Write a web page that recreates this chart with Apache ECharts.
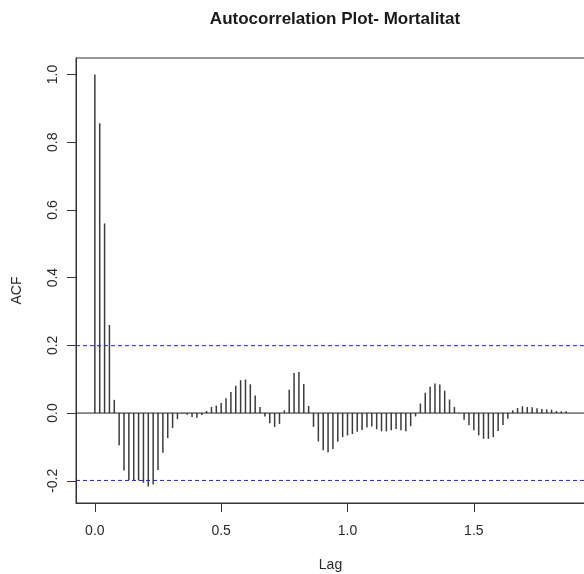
<!DOCTYPE html>
<html>
<head>
<meta charset="utf-8">
<title>Autocorrelation Plot- Mortalitat</title>
<script src="https://cdn.jsdelivr.net/npm/echarts@6/dist/echarts.min.js"></script>
<style>
  html, body { margin: 0; padding: 0; background: #ffffff; }
  #chart { width: 584px; height: 574px; }
</style>
</head>
<body>
<div id="chart"></div>
<script>
// Weekly series: lags are expressed in years (52 observations per year)
const frequency = 52;

// Sample autocorrelation for lags 0..97
const acfValues = [
  1.000, 0.856, 0.560, 0.260, 0.039, -0.095, -0.170, -0.198, -0.198, -0.199,
  -0.206, -0.217, -0.211, -0.168, -0.117, -0.074, -0.044, -0.018, -0.002, -0.005,
  -0.012, -0.014, -0.006, 0.006, 0.018, 0.022, 0.030, 0.044, 0.062, 0.081,
  0.097, 0.099, 0.085, 0.052, 0.018, -0.010, -0.030, -0.041, -0.032, 0.008,
  0.069, 0.118, 0.121, 0.086, 0.021, -0.041, -0.084, -0.110, -0.116, -0.106,
  -0.085, -0.071, -0.066, -0.062, -0.055, -0.050, -0.043, -0.040, -0.048, -0.054,
  -0.054, -0.051, -0.047, -0.051, -0.054, -0.039, -0.010, 0.028, 0.060, 0.078,
  0.087, 0.084, 0.066, 0.040, 0.018, 0.001, -0.020, -0.036, -0.051, -0.066,
  -0.076, -0.076, -0.071, -0.053, -0.035, -0.017, 0.008, 0.015, 0.020, 0.018,
  0.017, 0.014, 0.012, 0.011, 0.010, 0.006, 0.005, 0.005
];

// Approximate 95% confidence bound
const confLimit = 0.199;

// Tick positions
const xTicks = [0, 0.5, 1.0, 1.5];
const yTicks = [-0.2, 0.0, 0.2, 0.4, 0.6, 0.8, 1.0];

const titleText = 'Autocorrelation Plot- Mortalitat';
const xName = 'Lag';
const yName = 'ACF';

// Axis ranges padded by 4% like base graphics
const lagMax = (acfValues.length - 1) / frequency;
const xPad = lagMax * 0.04;
const xMin = -xPad;
const xMax = lagMax + xPad;
const yLo = Math.min(-confLimit, Math.min.apply(null, acfValues));
const yHi = Math.max(confLimit, Math.max.apply(null, acfValues));
const yPad = (yHi - yLo) * 0.04;

const points = acfValues.map((v, i) => [i / frequency, v]);

const textColor = '#2b2b2b';
const axisColor = '#333333';
const boundColor = '#1f1fe6';
const fontFamily = 'Liberation Sans, Arial, sans-serif';

// Horizontal reference line spanning the full lag range
function hLine(name, level, color, dash) {
  return {
    name: name,
    type: 'line',
    data: [[xMin, level], [xMax, level]],
    symbol: 'none',
    silent: true,
    z: 3,
    lineStyle: { color: color, width: 1, type: dash },
    itemStyle: { color: color }
  };
}

const chart = echarts.init(document.getElementById('chart'), null, { renderer: 'canvas' });
chart.setOption({
  backgroundColor: '#ffffff',
  animation: false,
  title: {
    text: titleText,
    left: 330,
    textAlign: 'center',
    top: 6,
    textStyle: { fontSize: 17, fontWeight: 'bold', color: '#1a1a1a', fontFamily: fontFamily }
  },
  grid: {
    left: 76,
    top: 58,
    width: 509,
    height: 445,
    outerBoundsMode: 'none',
    containLabel: false,
    show: true,
    borderColor: axisColor,
    borderWidth: 1,
    backgroundColor: 'transparent'
  },
  xAxis: {
    type: 'value',
    min: xMin,
    max: xMax,
    axisLine: { show: true, onZero: false, lineStyle: { color: axisColor, width: 1 } },
    splitLine: { show: false },
    axisTick: {
      show: true,
      inside: false,
      customValues: xTicks,
      length: 9,
      lineStyle: { color: axisColor, width: 1 }
    },
    axisLabel: {
      customValues: xTicks,
      formatter: (v) => v.toFixed(1),
      fontSize: 14,
      margin: 21,
      color: textColor,
      fontFamily: fontFamily
    },
    name: xName,
    nameLocation: 'middle',
    nameGap: 55,
    nameTextStyle: { fontSize: 14, color: textColor, fontFamily: fontFamily }
  },
  yAxis: {
    type: 'value',
    min: yLo - yPad,
    max: yHi + yPad,
    axisLine: { show: true, onZero: false, lineStyle: { color: axisColor, width: 1 } },
    splitLine: { show: false },
    axisTick: {
      show: true,
      inside: false,
      customValues: yTicks,
      length: 9,
      lineStyle: { color: axisColor, width: 1 }
    },
    axisLabel: {
      customValues: yTicks,
      formatter: (v) => v.toFixed(1),
      rotate: 90,
      fontSize: 14,
      margin: 16,
      color: textColor,
      fontFamily: fontFamily
    },
    name: yName,
    nameLocation: 'middle',
    nameGap: 52,
    nameRotate: 90,
    nameTextStyle: { fontSize: 14, color: textColor, fontFamily: fontFamily, padding: [0, 20, 0, 0] }
  },
  series: [
    {
      name: 'acf',
      type: 'bar',
      data: points,
      barWidth: 1.5,
      itemStyle: { color: '#3c3c3c' },
      silent: true,
      z: 2
    },
    hLine('zero', 0, '#222222', 'solid'),
    hLine('upper', confLimit, boundColor, [4, 3]),
    hLine('lower', -confLimit, boundColor, [4, 3])
  ]
});
</script>
</body>
</html>
